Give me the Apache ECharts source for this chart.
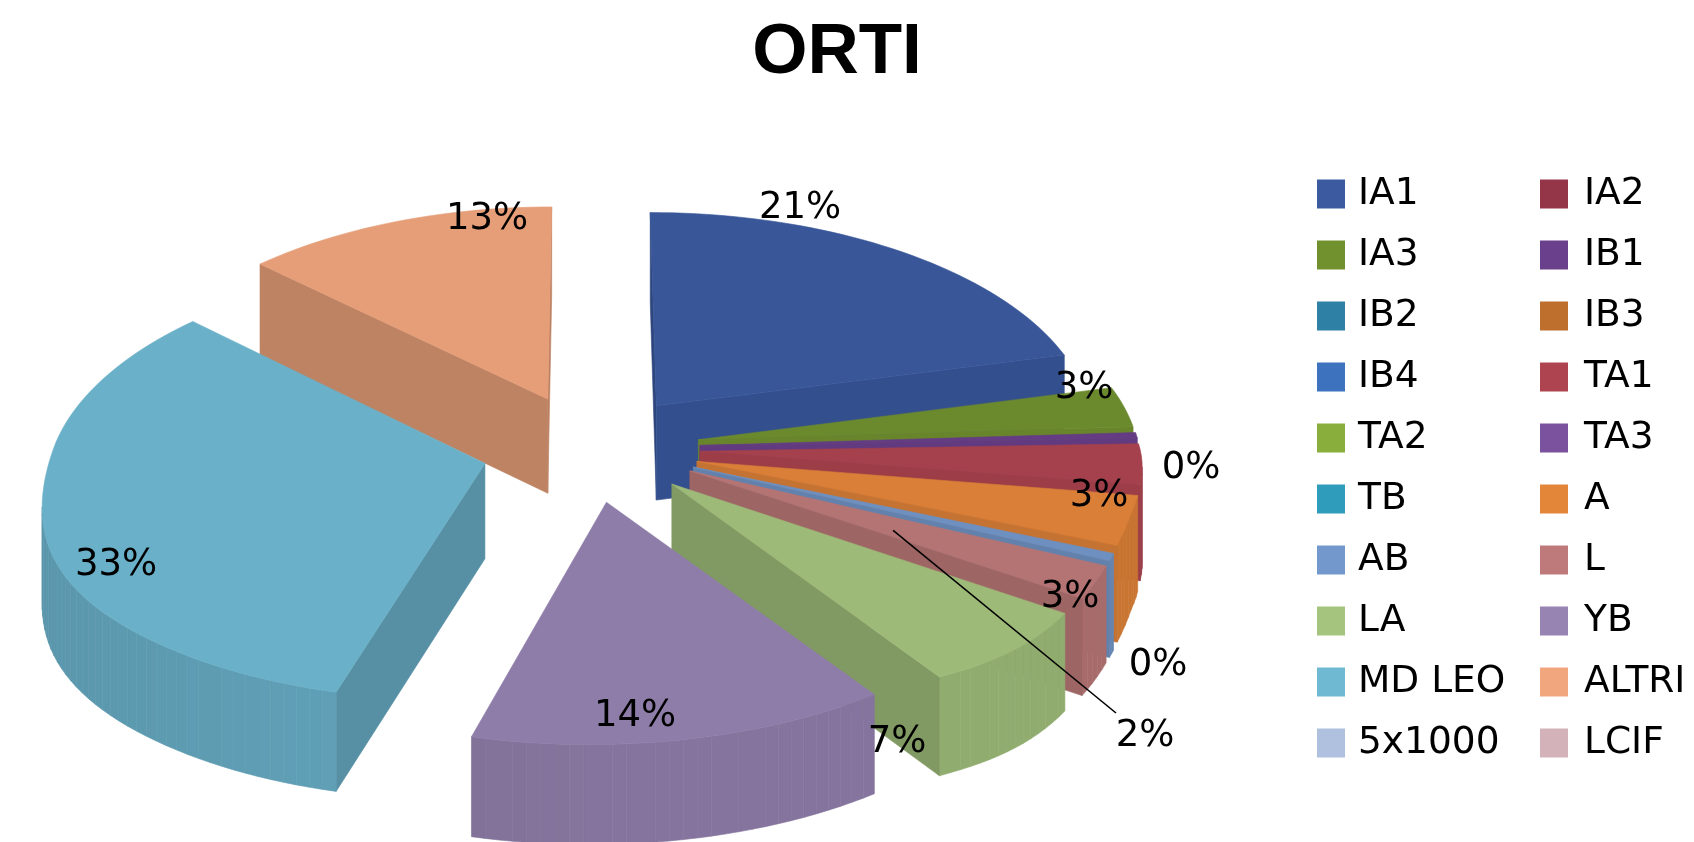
<!DOCTYPE html>
<html>
<head>
<meta charset="utf-8">
<style>
    html, body { margin: 0; padding: 0; background: #fff; }
    #chart { width: 1694px; height: 842px; filter: blur(0.6px); }
</style>
<script src="https://cdn.jsdelivr.net/npm/echarts@6/dist/echarts.min.js"></script>
</head>
<body>
<div id="chart"></div>
<script>
const categories = ['IA1', 'IA2', 'IA3', 'IB1', 'IB2', 'IB3', 'IB4', 'TA1', 'TA2', 'TA3', 'TB', 'A', 'AB', 'L', 'LA', 'YB', 'MD LEO', 'ALTRI', '5x1000', 'LCIF']
const values = [21, 0, 3, 0.4, 0, 0, 0, 3, 0, 0, 0, 3, 0.4, 2, 7, 14, 33, 13, 0, 0]
const colors = ['#3B5AA0', '#953548', '#71912F', '#6A3F8B', '#2F80A5', '#BE6F2E', '#3C72BE', '#AE4450', '#89AE3C', '#7B529E', '#2F9CBC', '#E4863A', '#7398CB', '#BE7A7A', '#A5C47E', '#9784B2', '#6FB9D3', '#F2A67E', '#AFC1DE', '#D3B2B9']

// where excel put the percent labels
const labelPos = {
    'IA1': [800, 208], 'IA3': [1084, 388], 'IB1': [1191, 468], 'TA1': [1099, 496], 'A': [1070, 597],
    'AB': [1158, 665], 'L': [1145, 736], 'LA': [897, 742], 'YB': [635, 716], 'MD LEO': [116, 565], 'ALTRI': [487, 219]
}

const FONT = '"DejaVu Sans"'
const total = values.reduce((a, b) => a + b, 0)
const cx = 590, cy = 448, rx = 440
const explode = 0.25

// fake 3d camera, unit circle to screen
const project = (x, y) => {
    const s = 1 + 0.09 * y
    const bulge = x > 0 && y > 0.3 && y < 1 ? 20 * Math.sin(Math.PI * (y - 0.3) / 0.7) : 0
    const shift = y > 0 ? 25 * Math.sin(Math.PI / 2 * Math.min(1, y / 0.8)) ** 2 : 0
    const w = x < 0 ? rx * 0.985 : rx
    return [cx + w * x * s - shift, cy + y * (217 + 17 * y) + bulge]
}
const depth = (y) => 95 + 4 * y

const shade = (hex, f) => {
    const n = parseInt(hex.slice(1), 16)
    const c = [n >> 16, (n >> 8) & 255, n & 255].map(v => Math.round(v * f))
    return `rgb(${c.join(',')})`
}

let acc = 0
const slices = categories.map((name, i) => {
    const start = acc / total * Math.PI * 2
    acc += values[i]
    const end = acc / total * Math.PI * 2
    return { name, index: i, start, end, mid: (start + end) / 2 }
})

const poly = (points, fill) => ({
    type: 'polygon',
    silent: true,
    shape: { points },
    style: { fill, stroke: fill, lineWidth: 0.6 }
})

const renderSlice = (slice) => {
    const { start, end, mid, index } = slice
    if (values[index] === 0) return null
    const base = colors[index]
    const ox = explode * Math.sin(mid), oy = -explode * Math.cos(mid)
    const steps = Math.max(2, Math.ceil((end - start) / 0.03))
    const model = [[ox, oy, 0]]
    for (let k = 0; k <= steps; k++) {
        const t = start + (end - start) * k / steps
        model.push([ox + Math.sin(t), oy - Math.cos(t), t])
    }
    const top = model.map(p => project(p[0], p[1]))
    const walls = []
    const last = top.length - 1
    for (let k = 0; k <= last; k++) {
        const j = (k + 1) % top.length
        // only the faces turned to the viewer
        if (top[j][0] - top[k][0] >= 0) continue
        let f
        if (k === 0 || k === last) {
            const n = k === 0 ? start - Math.PI / 2 : end + Math.PI / 2
            f = Math.max(0.78, 0.93 - 0.21 * Math.abs(Math.sin(n)))
        } else {
            const n = (model[k][2] + model[j][2]) / 2
            f = n <= Math.PI ? 0.88 : 0.88 - 0.07 * Math.abs(Math.sin(n))
        }
        const dk = depth(model[k][1]), dj = depth(model[j][1])
        walls.push(poly([top[k], top[j], [top[j][0], top[j][1] + dj], [top[k][0], top[k][1] + dk]], shade(base, f)))
    }
    return { type: 'group', children: [...walls, poly(top, shade(base, 0.95))] }
}

const renderLabels = () => {
    const children = []
    // leader line of the L slice
    const a = project(0.69, 0.35), b = [1116, 713]
    children.push({
        type: 'line',
        silent: true,
        shape: { x1: a[0], y1: a[1], x2: b[0], y2: b[1] },
        style: { stroke: '#000', lineWidth: 1.6 }
    })
    categories.forEach((name, i) => {
        if (!labelPos[name]) return
        children.push({
            type: 'text',
            silent: true,
            style: {
                x: labelPos[name][0],
                y: labelPos[name][1],
                text: Math.round(values[i] / total * 100) + '%',
                fill: '#000',
                font: `37px ${FONT}`,
                align: 'center',
                verticalAlign: 'middle'
            }
        })
    })
    return { type: 'group', children }
}

// back slices first, front ones paint over them
const paintOrder = [...slices].sort((a, b) => Math.cos(b.mid) - Math.cos(a.mid))

const series = paintOrder.map(slice => ({
    type: 'custom',
    name: slice.name,
    coordinateSystem: 'none',
    silent: true,
    animation: false,
    itemStyle: { color: colors[slice.index] },
    data: [values[slice.index]],
    renderItem: () => renderSlice(slice)
}))
series.push({
    type: 'custom',
    name: 'labels',
    coordinateSystem: 'none',
    silent: true,
    animation: false,
    z: 5,
    data: [total],
    renderItem: renderLabels
})

const legendBase = {
    orient: 'vertical',
    top: 169,
    icon: 'rect',
    itemWidth: 28,
    itemHeight: 29,
    itemGap: 21,
    selectedMode: false
}
const legendText = (pad) => ({ fontFamily: FONT, fontSize: 37.5, lineHeight: 40, color: '#000', padding: [0, 0, 0, pad] })

const mChart = echarts.init(document.getElementById('chart'))
mChart.setOption({
    backgroundColor: '#fff',
    animation: false,
    title: {
        text: 'ORTI',
        left: 832,
        top: 13,
        textAlign: 'center',
        textStyle: { fontFamily: '"Liberation Sans"', fontWeight: 'bold', fontSize: 71, color: '#000' }
    },
    legend: [
        { ...legendBase, left: 1312, textStyle: legendText(8), data: categories.filter((c, i) => i % 2 === 0) },
        { ...legendBase, left: 1535, textStyle: legendText(11), data: categories.filter((c, i) => i % 2 === 1) }
    ],
    series
})
</script>
</body>
</html>
